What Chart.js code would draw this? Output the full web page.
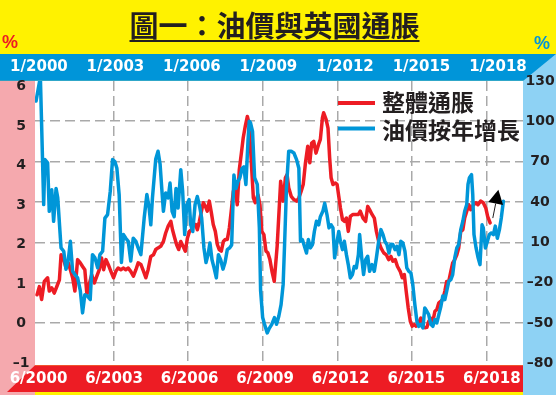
<!DOCTYPE html>
<html><head><meta charset="utf-8">
<script src="https://cdn.jsdelivr.net/npm/chart.js@4"></script>
<style>html,body{margin:0;padding:0;background:#fff200;}canvas{display:block}</style>
</head><body>
<canvas id="c" width="556" height="395"></canvas>
<script>
// ---- text ----
const titleText = '圖一：油價與英國通脹';
const cpiLabel = '整體通脹';
const oilLabel = '油價按年增長';

// ---- data: x = months since Jan 2000 ----
const cpiMonths = [0.5,1.6,2.7,4.0,5.6,6.4,7.6,8.8,10.1,11.3,12.1,13.4,14.5,15.6,16.6,17.7,18.8,20.1,21.4,22.5,23.6,24.6,25.7,26.9,28.2,29.4,30.6,31.7,32.7,33.8,34.9,36.2,37.5,38.6,39.7,41.0,42.3,43.4,44.6,45.8,47.1,48.3,49.4,50.7,52.0,53.1,54.2,55.5,56.8,57.9,59.0,60.3,61.6,62.7,63.9,65.2,66.0,67.1,68.0,69.0,70.0,71.1,72.2,73.2,74.2,75.1,76.1,77.2,78.0,79.0,80.0,80.9,81.9,82.8,83.8,84.8,85.7,86.7,87.7,88.6,89.6,90.6,91.5,92.5,93.5,94.4,95.4,96.4,97.3,98.3,99.3,100.2,101.2,102.2,103.1,104.1,105.1,106.0,107.3,108.3,109.2,110.2,111.2,112.1,113.1,114.1,115.2,116.6,118.3,119.5,120.6,121.4,122.2,123.4,124.7,126.0,127.1,128.2,129.2,130.3,131.4,132.4,133.3,134.3,135.4,136.6,137.5,138.5,139.1,140.3,141.2,142.0,142.7,143.6,144.8,145.6,146.4,147.2,148.2,149.1,150.1,151.0,152.0,153.3,154.6,155.9,156.8,158.1,159.4,160.4,161.3,162.5,163.6,164.6,165.7,166.8,168.1,169.4,170.5,171.6,172.6,173.7,174.8,176.1,177.1,178.1,179.0,180.0,181.0,181.9,182.9,183.8,185.0,186.1,187.1,188.0,189.0,189.9,190.9,191.9,192.9,193.8,194.8,195.8,196.7,197.7,198.6,199.6,200.6,201.5,202.5,203.5,204.4,205.4,206.4,207.3,208.3,209.3,210.2,211.5,212.8,213.7,215.0,216.3,217.5,218.4,219.6];
const cpiValues = [0.70,0.90,0.58,1.03,1.12,0.79,0.87,0.74,0.91,1.07,1.69,1.57,1.36,1.49,1.32,1.12,0.79,1.57,1.49,1.40,1.32,0.70,0.95,1.20,0.99,1.16,1.32,1.61,1.32,1.57,1.45,1.28,1.12,1.28,1.36,1.32,1.36,1.32,1.36,1.28,1.16,1.32,1.49,1.45,1.28,1.12,1.32,1.65,1.69,1.82,1.86,1.90,2.02,2.23,2.40,2.52,2.31,2.10,1.94,1.82,2.02,1.90,1.78,2.10,2.27,2.31,2.44,2.44,2.31,2.52,2.77,2.98,2.89,2.77,3.02,2.73,2.44,2.27,1.94,1.82,1.78,2.02,2.07,2.07,2.36,2.77,3.26,3.35,2.93,3.80,4.21,4.59,4.88,5.12,4.92,4.00,3.10,2.98,3.18,2.93,2.27,2.19,1.78,1.74,1.57,1.28,1.03,1.90,3.51,3.02,3.60,3.68,3.35,3.14,3.06,3.02,3.10,3.26,3.43,3.97,4.38,3.97,4.46,4.50,4.21,4.42,4.55,5.08,5.21,5.04,4.83,4.09,3.60,3.43,3.47,3.43,3.14,2.85,2.56,2.52,2.60,2.27,2.64,2.69,2.69,2.69,2.77,2.60,2.52,2.89,2.81,2.69,2.60,2.27,2.02,1.86,1.74,1.69,1.57,1.65,1.53,1.57,1.40,1.28,1.12,1.20,0.79,0.37,0.04,-0.08,-0.04,-0.08,0.00,0.12,-0.08,-0.12,-0.11,0.04,0.12,0.04,0.29,0.33,0.50,0.54,0.58,0.79,1.03,1.03,1.28,1.49,1.57,1.69,1.86,2.27,2.31,2.60,2.77,2.93,2.81,2.93,2.98,2.93,3.02,2.98,2.85,2.64,2.48];

const oilMonths = [0.0,2.1,3.7,4.3,5.6,6.4,7.6,8.5,9.7,10.5,12.1,13.4,14.5,15.6,16.6,17.7,18.8,20.1,21.4,22.5,23.6,24.9,26.2,27.3,28.5,29.8,30.9,32.2,33.3,34.6,35.9,37.0,38.1,39.1,40.2,41.3,42.3,43.4,44.6,45.8,47.0,48.3,49.4,50.7,52.3,53.6,54.7,55.5,56.3,57.9,59.0,60.0,60.8,61.6,62.7,63.9,64.8,65.8,66.8,67.7,68.7,70.0,70.9,71.9,72.9,74.0,74.8,75.8,76.9,78.0,79.1,80.1,81.2,82.2,83.2,84.1,85.1,86.1,87.2,88.2,89.3,90.4,91.4,92.5,93.6,94.6,95.7,96.7,97.6,98.6,99.6,100.5,101.5,102.5,103.1,103.7,104.7,105.7,107.0,108.0,108.6,109.6,110.5,111.8,112.8,114.0,115.3,116.3,117.4,118.5,119.5,120.2,121.1,122.2,123.4,124.7,126.0,127.1,127.9,128.8,129.8,130.8,131.7,132.7,133.7,134.6,135.6,136.7,137.5,138.7,139.6,140.7,141.7,142.7,143.6,144.4,145.6,146.4,147.2,148.2,149.1,150.1,151.0,152.0,153.0,153.9,154.9,155.9,156.5,157.5,158.4,159.4,160.4,161.3,162.5,163.6,164.6,165.7,166.8,167.8,168.7,169.7,170.7,171.6,172.6,173.6,174.5,175.5,176.4,177.4,178.4,179.3,180.3,181.3,182.2,183.2,184.2,185.1,186.1,187.1,188.0,189.0,189.9,190.9,191.9,192.9,193.8,194.8,195.8,196.7,197.7,198.6,199.6,200.6,201.5,202.5,203.5,204.4,205.4,206.4,207.3,208.3,208.9,209.6,210.6,211.2,211.8,212.8,213.8,214.7,215.7,216.3,217.3,218.3,219.2,220.2,221.2,222.1,223.1,224.1,225.0,226.0];
const oilValues = [115,133,38,71.5,69,33,49,25.6,50,43,5.8,3.3,-10,-3,10.7,-11.6,-14,-16.5,-26,-42.5,-29,-30,-32.6,0.8,-1.6,-9,0.8,3.3,28,30.6,48,71.5,70,65,45.5,-5,15.7,13,10.7,-4,13,10.7,5.8,0.8,28,45.5,35.5,23,43,72,77.7,68,50,33,46.7,43,54,33,29,50,35.5,64,48,15.7,38,41.7,23,18,38,44,36.8,28,5.8,-5,0.8,9.5,-3,-9,-16.5,0.8,-3,-10,-5,4.5,5.8,8,60,50,55,58,65,66,53,85,100,99,92.5,58,53,20.7,-26,-46,-51,-57.4,-54,-51,-46,-51,-45,-36.4,-21.5,8.3,50,77.7,77.7,76.4,71.5,65,10.7,12,7,2,12,5.8,8.3,18,25.6,23,29,33,39,30.6,20.7,23,20.7,-1.6,10.7,18,10.7,4.5,10.7,0.8,-6.6,-16.5,-14,-8,-9,0.8,15.7,-1.6,-14,-3,-0.4,-11.6,-6.6,-11.6,-1.6,10.7,19.4,15.7,10.7,8.3,2,8.5,8.3,4.5,7,0.8,10.7,9.5,3.3,-9,-11.6,-12.8,-21.5,-36.4,-48.8,-52.5,-51,-53.7,-38.8,-41.3,-43.8,-51,-52.5,-47.5,-50,-43.8,-37.6,-30,-32.6,-26.4,-19,-17.8,-14,-1.6,5.8,8.3,19.4,25.6,33,38,53,58,60.3,45.5,15.7,5.8,-1.6,-6.6,23,20.7,5.8,10.7,15.7,16.9,15.7,22,13,19.4,28,40.5];

// ---- axes: tick values and labels ----
const topTickMonths = [1.4,38.4,75.4,112.4,149.4,186.4,223.4];
const topTickLabels = ['1/2000','1/2003','1/2006','1/2009','1/2012','1/2015','1/2018'];
const bottomTickMonths = [1.2,37.7,74.3,110.8,147.3,183.9,220.4];
const bottomTickLabels = ['6/2000','6/2003','6/2006','6/2009','6/2012','6/2015','6/2018'];
const gridMonths = [37.5,73.6,109.7,145.8,181.9,218.0];
const leftTicks = [-1,0,1,2,3,4,5,6];
const rightTicks = [-80,-50,-20,10,40,70,100,130];
const arrowFrom = {x:220.9, y:2.6};
const arrowTo = {x:223.6, y:3.3};

// ---- style ----
const RED='#ed1c24', BLUE='#0096d8', BAND_BLUE='#0095d9', PINK='#f5a9ae', LIGHTBLUE='#8ed2f4', YELLOW='#fff200', DARK='#231f20', GRID='#a9a9a9';
const XMIN=-0.5, XMAX=235.5;
const fmt = v => v < 0 ? '\u2013' + Math.abs(v) : String(v);
const tickFontY = {family:'DejaVu Sans', weight:'bold', size:14};
const tickFontX = {family:'DejaVu Sans', weight:'bold', size:15};

const decor = {
  id:'decor',
  beforeDraw(chart){
    const {ctx, chartArea:a, width:W, height:H} = chart;
    ctx.save();
    ctx.fillStyle = YELLOW; ctx.fillRect(0,0,W,H);
    const bandTop = 54;
    ctx.fillStyle = BAND_BLUE; ctx.fillRect(0, bandTop, W, a.top - bandTop);
    ctx.fillStyle = PINK; ctx.fillRect(0, a.top, a.left, H - a.top);
    ctx.fillStyle = LIGHTBLUE; ctx.beginPath();
    ctx.moveTo(a.right, a.top); ctx.lineTo(W, bandTop); ctx.lineTo(W, H); ctx.lineTo(a.right, H); ctx.closePath(); ctx.fill();
    ctx.fillStyle = '#ffffff'; ctx.fillRect(a.left, a.top, a.right - a.left, a.bottom - a.top + 2);
    ctx.fillStyle = RED; ctx.beginPath();
    ctx.moveTo(a.left, a.bottom + 2); ctx.lineTo(a.right, a.bottom + 2); ctx.lineTo(a.right, H - 3); ctx.lineTo(a.left - 28, H - 3); ctx.closePath(); ctx.fill();
    // title
    ctx.font = 'bold 29px "Noto Sans CJK TC"';
    ctx.fillStyle = DARK; ctx.textAlign = 'center'; ctx.textBaseline = 'middle';
    const tx = 274.5, ty = 26;
    ctx.fillText(titleText, tx, ty);
    const tw = ctx.measureText(titleText).width;
    ctx.fillRect(tx - tw/2, 40, tw, 2);
    // unit signs
    ctx.font = 'bold 18px "Liberation Sans"';
    ctx.fillStyle = RED; ctx.fillText('%', 10, 43);
    ctx.fillStyle = BAND_BLUE; ctx.fillText('%', 542, 44);
    ctx.restore();
  },
  afterDatasetsDraw(chart){
    const {ctx} = chart;
    const sx = chart.scales.x, sy = chart.scales.y;
    ctx.save();
    // legend
    const items = chart.data.datasets.map(d => ({label:d.label, color:d.borderColor}));
    const rows = [{ly:103, ty:102.5}, {ly:128.5, ty:130}];
    items.forEach((it, i) => {
      ctx.strokeStyle = it.color; ctx.lineWidth = 4; ctx.lineCap = 'butt';
      ctx.beginPath(); ctx.moveTo(338, rows[i].ly); ctx.lineTo(375, rows[i].ly); ctx.stroke();
      ctx.font = 'bold 23px "Noto Sans CJK TC"'; ctx.fillStyle = DARK;
      ctx.textAlign = 'left'; ctx.textBaseline = 'middle';
      ctx.fillText(it.label, 382, rows[i].ty);
    });
    // arrow
    const x1 = sx.getPixelForValue(arrowFrom.x), y1 = sy.getPixelForValue(arrowFrom.y);
    const x2 = sx.getPixelForValue(arrowTo.x), y2 = sy.getPixelForValue(arrowTo.y);
    const ang = Math.atan2(y2 - y1, x2 - x1), hl = 14, hw = 7.5;
    const bx = x2 - hl*Math.cos(ang), by = y2 - hl*Math.sin(ang);
    ctx.strokeStyle = DARK; ctx.lineWidth = 1;
    ctx.beginPath(); ctx.moveTo(x1, y1); ctx.lineTo(bx, by); ctx.stroke();
    ctx.fillStyle = '#000';
    ctx.beginPath(); ctx.moveTo(x2, y2);
    ctx.lineTo(bx + hw*Math.sin(ang), by - hw*Math.cos(ang));
    ctx.lineTo(bx - hw*Math.sin(ang), by + hw*Math.cos(ang));
    ctx.closePath(); ctx.fill();
    ctx.restore();
  }
};

const setTicks = vals => s => { s.ticks = vals.map(v => ({value:v})); };

new Chart(document.getElementById('c'), {
  type:'line',
  data:{datasets:[
    {label:cpiLabel, data:cpiMonths.map((m,i)=>({x:m, y:cpiValues[i]})), borderColor:RED, borderWidth:3.5, pointRadius:0, tension:0, borderJoinStyle:'round', borderCapStyle:'round', xAxisID:'x', yAxisID:'y', order:1, clip:0},
    {label:oilLabel, data:oilMonths.map((m,i)=>({x:m, y:oilValues[i]})), borderColor:BLUE, borderWidth:3.5, pointRadius:0, tension:0, borderJoinStyle:'round', borderCapStyle:'round', xAxisID:'x', yAxisID:'y2', order:0, clip:0}
  ]},
  options:{
    responsive:false, animation:false, devicePixelRatio:1,
    layout:{padding:{top:54, left:0, right:0, bottom:0}},
    plugins:{legend:{display:false}, tooltip:{enabled:false}, title:{display:false}},
    scales:{
      x:{type:'linear', axis:'x', position:'bottom', min:XMIN, max:XMAX,
         afterBuildTicks:setTicks(bottomTickMonths),
         ticks:{callback:(v,i)=>bottomTickLabels[i], color:'#ffffff', font:tickFontX, padding:6.7, autoSkip:false, maxRotation:0, minRotation:0},
         grid:{display:false, drawTicks:false}, border:{display:false},
         afterFit:s=>{s.height=31.7;}},
      xg:{type:'linear', axis:'x', position:'bottom', min:XMIN, max:XMAX,
         afterBuildTicks:setTicks(gridMonths),
         ticks:{display:false},
         grid:{display:true, color:GRID, lineWidth:1.5, drawTicks:false}, border:{display:false, dash:[10,5]},
         afterFit:s=>{s.height=0;}},
      xt:{type:'linear', axis:'x', position:'top', min:XMIN, max:XMAX,
         afterBuildTicks:setTicks(topTickMonths),
         ticks:{callback:(v,i)=>topTickLabels[i], color:'#ffffff', font:tickFontX, padding:5, autoSkip:false, maxRotation:0, minRotation:0},
         grid:{display:false, drawTicks:false}, border:{display:false},
         afterFit:s=>{s.height=26.9;}},
      yl:{type:'linear', axis:'y', position:'left', min:-1, max:6.15,
         afterBuildTicks:setTicks(leftTicks),
         ticks:{callback:v=>fmt(v), color:DARK, font:tickFontY, padding:5.6, crossAlign:'center'},
         grid:{display:false, drawTicks:false}, border:{display:false},
         afterFit:s=>{s.width=35;}},
      y:{type:'linear', axis:'y', position:'left', min:-1, max:6,
         afterBuildTicks:setTicks(leftTicks),
         ticks:{display:false},
         grid:{display:true, drawTicks:false, lineWidth:1.5,
               color:c => (c.tick && (c.tick.value===6 || c.tick.value===-1)) ? 'rgba(0,0,0,0)' : GRID},
         border:{display:false, dash:[10,5]},
         afterFit:s=>{s.width=0;}},
      y2:{type:'linear', axis:'y', position:'right', min:-80, max:130,
         afterBuildTicks:setTicks(rightTicks),
         ticks:{callback:v=>fmt(v), color:DARK, font:tickFontY, padding:2.4, crossAlign:'center'},
         grid:{display:false, drawTicks:false}, border:{display:false},
         afterFit:s=>{s.width=33;}}
    }
  },
  plugins:[decor]
});
</script>
</body></html>
